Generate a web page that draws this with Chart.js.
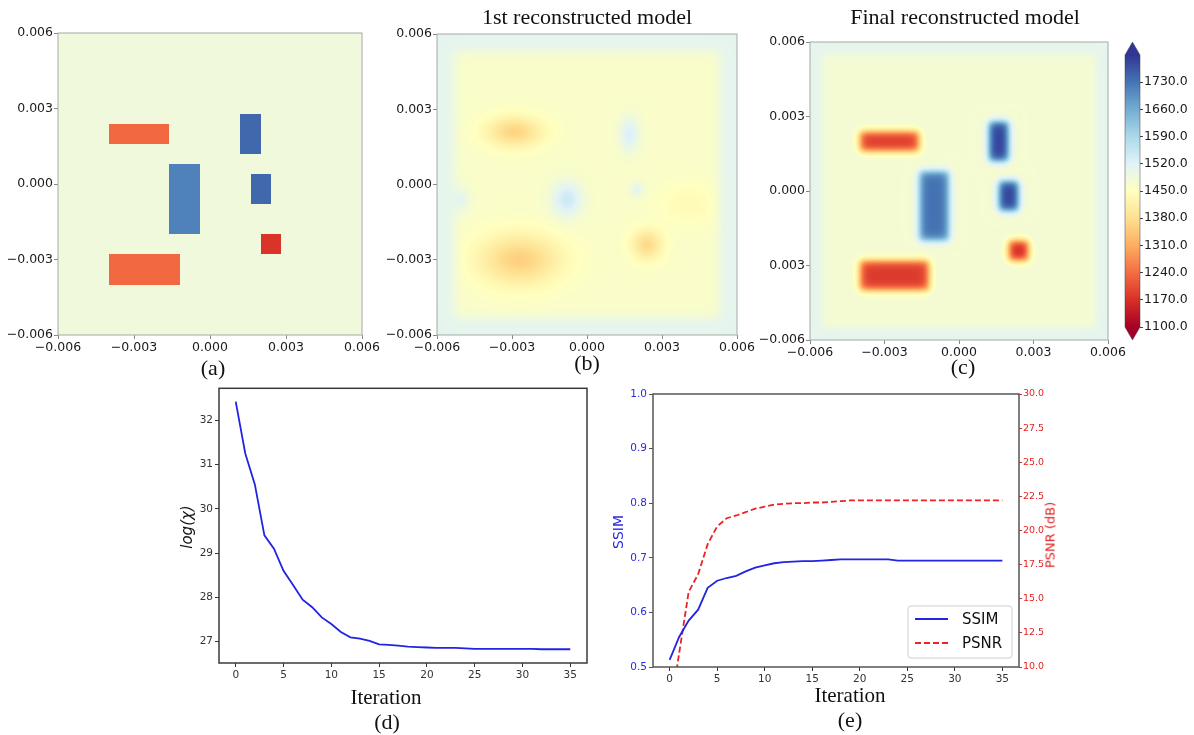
<!DOCTYPE html>
<html>
<head>
<meta charset="utf-8">
<script src="https://cdn.jsdelivr.net/npm/chart.js@4.4.0/dist/chart.umd.min.js"></script>
<style>
body { margin: 0; background: #fff; width: 1194px; height: 735px; position: relative; overflow: hidden; }
canvas { position: absolute; }
.lbl { position: absolute; transform: translate(-50%, -50%); white-space: nowrap; font-family: "Liberation Serif", serif; font-size: 22px; color: #111; }
.rot { transform: translate(-50%, -50%) rotate(-90deg); }
</style>
</head>
<body>
<canvas id="cA" width="390" height="345" style="left:0;top:20px"></canvas>
<canvas id="cB" width="380" height="345" style="left:380px;top:20px"></canvas>
<canvas id="cC" width="380" height="345" style="left:750px;top:28px"></canvas>
<canvas id="cBar" width="94" height="320" style="left:1100px;top:30px"></canvas>
<canvas id="cD" width="425" height="313" style="left:180px;top:380px"></canvas>
<canvas id="cE" width="440" height="317" style="left:615px;top:380px"></canvas>

<div class="lbl" style="left:213px;top:368px">(a)</div>
<div class="lbl" style="left:587px;top:17px">1st reconstructed model</div>
<div class="lbl" style="left:587px;top:363px">(b)</div>
<div class="lbl" style="left:965px;top:17px">Final reconstructed model</div>
<div class="lbl" style="left:963px;top:367px">(c)</div>
<div class="lbl rot" style="left:187px;top:527px;font-family:'DejaVu Sans';font-style:italic;font-size:15px">log(χ)</div>
<div class="lbl" style="left:386px;top:697px;font-size:21px">Iteration</div>
<div class="lbl" style="left:387px;top:722px">(d)</div>
<div class="lbl rot" style="left:618px;top:532px;font-family:'DejaVu Sans';font-size:14px;color:#2a2ae0">SSIM</div>
<div class="lbl rot" style="left:1050px;top:535px;font-family:'DejaVu Sans';font-size:13px;color:#e52222">PSNR (dB)</div>
<div class="lbl" style="left:850px;top:695px;font-size:21px">Iteration</div>
<div class="lbl" style="left:850px;top:720px">(e)</div>

<script>
// ---- model data (sound speed, m/s), coordinates in m ----
const axisTicks = [-0.006, -0.003, 0, 0.003, 0.006];
const axisTickLabels = ['\u22120.006', '\u22120.003', '0.000', '0.003', '0.006'];
const finalYTickLabels = ['\u22120.006', '0.003', '0.000', '0.003', '0.006'];

// inclusion boxes [x0, x1, y0, y1]
const boxes = [
    [-0.0040, -0.0016, 0.0016, 0.0024],
    [-0.0016, -0.0004, -0.0020, 0.0008],
    [0.0012, 0.0020, 0.0012, 0.0028],
    [0.0016, 0.0024, -0.0008, 0.0004],
    [0.0020, 0.0028, -0.0028, -0.0020],
    [-0.0040, -0.0012, -0.0040, -0.0028]
];
const trueValues = [1235, 1715, 1745, 1745, 1175, 1235];
const trueBackground = 1485;

const finalValues = [1180, 1735, 1795, 1795, 1150, 1180];
const finalBackground = 1474;
const finalBorder = 1506;

// first model blobs [cx, cy, rx, ry, change]
const firstBlobs = [
    [-0.0029, 0.0021, 0.0011, 0.0006, -100],
    [-0.0027, -0.0030, 0.0016, 0.0010, -105],
    [0.0024, -0.0024, 0.0006, 0.0006, -90],
    [-0.0008, -0.0006, 0.0006, 0.0007, 85],
    [0.0017, 0.0020, 0.0004, 0.0007, 65],
    [0.0020, -0.0002, 0.0003, 0.0003, 45],
    [-0.0051, -0.0006, 0.0004, 0.0005, 50],
    [0.0041, -0.0008, 0.0012, 0.0008, -25]
];
const firstBackground = 1462;
const firstBorder = 1508;

const colorbarTicks = [1100, 1170, 1240, 1310, 1380, 1450, 1520, 1590, 1660, 1730];
const vmin = 1100, vmax = 1800;

// ---- convergence data ----
const iterations = [0, 1, 2, 3, 4, 5, 6, 7, 8, 9, 10, 11, 12, 13, 14, 15, 16, 17,
    18, 19, 20, 21, 22, 23, 24, 25, 26, 27, 28, 29, 30, 31, 32, 33, 34, 35];
const logChi = [32.42, 31.25, 30.55, 29.4, 29.1, 28.6, 28.28, 27.95, 27.78, 27.55, 27.4, 27.22,
    27.1, 27.07, 27.02, 26.94, 26.93, 26.91, 26.89, 26.88, 26.87, 26.86, 26.86, 26.86,
    26.85, 26.84, 26.84, 26.84, 26.84, 26.84, 26.84, 26.84, 26.83, 26.83, 26.83, 26.83];
const ssim = [0.513, 0.555, 0.585, 0.605, 0.645, 0.658, 0.663, 0.667, 0.675, 0.682, 0.686, 0.69,
    0.692, 0.693, 0.694, 0.694, 0.695, 0.696, 0.697, 0.697, 0.697, 0.697, 0.697, 0.697,
    0.695, 0.695, 0.695, 0.695, 0.695, 0.695, 0.695, 0.695, 0.695, 0.695, 0.695, 0.695];
const psnr = [6.5, 11.0, 15.5, 16.8, 19.0, 20.3, 20.9, 21.1, 21.35, 21.6, 21.75, 21.9,
    21.95, 22.0, 22.0, 22.05, 22.05, 22.1, 22.15, 22.2, 22.2, 22.2, 22.2, 22.2,
    22.2, 22.2, 22.2, 22.2, 22.2, 22.2, 22.2, 22.2, 22.2, 22.2, 22.2, 22.2];
const xTicks = [0, 5, 10, 15, 20, 25, 30, 35];
const chiTicks = [27, 28, 29, 30, 31, 32];
const ssimTicks = [0.5, 0.6, 0.7, 0.8, 0.9, 1.0];
const psnrTicks = [10, 12.5, 15, 17.5, 20, 22.5, 25, 27.5, 30];

// ---- colour map (RdYlBu) ----
const rdylbu = ['#a50026', '#d73027', '#f46d43', '#fdae61', '#fee090', '#ffffbf',
    '#e0f3f8', '#abd9e9', '#74add1', '#4575b4', '#313695'].map(function(h) {
    return [parseInt(h.substr(1, 2), 16), parseInt(h.substr(3, 2), 16), parseInt(h.substr(5, 2), 16)];
});
function cmap(v) {
    var t = Math.min(1, Math.max(0, (v - vmin) / (vmax - vmin))) * 10;
    var i = Math.min(9, Math.floor(t)), f = t - i;
    var a = rdylbu[i], b = rdylbu[i + 1];
    return [a[0] + (b[0] - a[0]) * f, a[1] + (b[1] - a[1]) * f, a[2] + (b[2] - a[2]) * f];
}

function logistic(d, s) { return 1 / (1 + Math.exp(-d / s)); }
function boxProfile(x, y, r, grow, s) {
    return (logistic(x - (r[0] - grow), s) - logistic(x - (r[1] + grow), s)) *
        (logistic(y - (r[2] - grow), s) - logistic(y - (r[3] + grow), s));
}

function trueField(x, y) {
    var v = trueBackground;
    boxes.forEach(function(r, i) {
        if (x >= r[0] && x <= r[1] && y >= r[2] && y <= r[3]) v = trueValues[i];
    });
    return v;
}
function firstField(x, y) {
    var inner = boxProfile(x, y, [-0.0053, 0.0053, -0.0053, 0.0053], 0, 0.00013);
    var d = firstBackground - firstBorder;
    firstBlobs.forEach(function(b) {
        var dx = (x - b[0]) / b[2], dy = (y - b[1]) / b[3];
        d += b[4] * Math.exp(-(dx * dx + dy * dy));
    });
    return firstBorder + inner * d;
}
function finalField(x, y) {
    var inner = boxProfile(x, y, [-0.0055, 0.0055, -0.0055, 0.0055], 0, 0.00008);
    var d = finalBackground - finalBorder;
    boxes.forEach(function(r, i) {
        var amp = finalValues[i] - finalBackground;
        var core = boxProfile(x, y, r, 0, 0.0001);
        var halo = boxProfile(x, y, r, 0.0003, 0.00014) - core;
        d += amp * core - 0.045 * amp * halo;
    });
    return finalBorder + inner * d;
}

// ---- plugins ----
function heatmapPlugin(fieldFn) {
    return {
        id: 'heatmap',
        beforeDatasetsDraw: function(chart) {
            var ctx = chart.ctx, a = chart.chartArea, sx = chart.scales.x, sy = chart.scales.y;
            var w = Math.round(a.right - a.left), h = Math.round(a.bottom - a.top);
            if (!chart.$img) {
                var off = document.createElement('canvas');
                off.width = w; off.height = h;
                var octx = off.getContext('2d');
                var img = octx.createImageData(w, h);
                for (var j = 0; j < h; j++) {
                    var yv = sy.getValueForPixel(a.top + j + 0.5);
                    for (var i = 0; i < w; i++) {
                        var c = cmap(fieldFn(sx.getValueForPixel(a.left + i + 0.5), yv));
                        var k = (j * w + i) * 4;
                        img.data[k] = c[0]; img.data[k + 1] = c[1]; img.data[k + 2] = c[2]; img.data[k + 3] = 255;
                    }
                }
                octx.putImageData(img, 0, 0);
                chart.$img = off;
            }
            ctx.drawImage(chart.$img, a.left, a.top, w, h);
        }
    };
}

var framePlugin = {
    id: 'frame',
    afterDatasetsDraw: function(chart, args, opts) {
        var a = chart.chartArea, ctx = chart.ctx;
        ctx.save();
        ctx.strokeStyle = opts.color;
        ctx.lineWidth = opts.width;
        ctx.strokeRect(a.left, a.top, a.right - a.left, a.bottom - a.top);
        ctx.restore();
    }
};

var colorbarPlugin = {
    id: 'colorbar',
    beforeDatasetsDraw: function(chart) {
        var ctx = chart.ctx, a = chart.chartArea, s = chart.scales.y;
        for (var y = Math.floor(a.top); y < a.bottom; y++) {
            var c = cmap(s.getValueForPixel(y + 0.5));
            ctx.fillStyle = 'rgb(' + c.map(Math.round).join(',') + ')';
            ctx.fillRect(a.left, y, a.right - a.left, 1);
        }
        var mid = (a.left + a.right) / 2;
        ctx.fillStyle = 'rgb(' + cmap(vmax).map(Math.round).join(',') + ')';
        ctx.beginPath(); ctx.moveTo(a.left, a.top); ctx.lineTo(mid, a.top - 13); ctx.lineTo(a.right, a.top); ctx.closePath(); ctx.fill();
        ctx.fillStyle = 'rgb(' + cmap(vmin).map(Math.round).join(',') + ')';
        ctx.beginPath(); ctx.moveTo(a.left, a.bottom); ctx.lineTo(mid, a.bottom + 13); ctx.lineTo(a.right, a.bottom); ctx.closePath(); ctx.fill();
        ctx.strokeStyle = 'rgba(60,60,60,0.6)';
        ctx.lineWidth = 0.8;
        ctx.beginPath();
        ctx.moveTo(a.left, a.bottom); ctx.lineTo(a.left, a.top); ctx.lineTo(mid, a.top - 13); ctx.lineTo(a.right, a.top);
        ctx.lineTo(a.right, a.bottom); ctx.lineTo(mid, a.bottom + 13); ctx.closePath();
        ctx.stroke();
    }
};

var legendBoxPlugin = {
    id: 'legendBox',
    afterDraw: function(chart) {
        var ctx = chart.ctx, a = chart.chartArea;
        var w = 104, h = 52, left = a.right - 7 - w, top = a.bottom - 9 - h;
        ctx.save();
        ctx.fillStyle = 'rgba(255,255,255,0.85)';
        ctx.strokeStyle = '#d0d0d0';
        ctx.lineWidth = 1;
        ctx.beginPath(); ctx.roundRect(left, top, w, h, 3); ctx.fill(); ctx.stroke();
        chart.data.datasets.forEach(function(ds, i) {
            var y = top + 13 + i * 24;
            ctx.strokeStyle = ds.borderColor;
            ctx.lineWidth = ds.borderWidth;
            ctx.setLineDash(ds.borderDash || []);
            ctx.beginPath(); ctx.moveTo(left + 7, y); ctx.lineTo(left + 40, y); ctx.stroke();
            ctx.setLineDash([]);
            ctx.fillStyle = '#111';
            ctx.font = '15px "DejaVu Sans"';
            ctx.textBaseline = 'middle';
            ctx.fillText(ds.label, left + 54, y + 1);
        });
        ctx.restore();
    }
};

Chart.register(framePlugin);

// ---- helpers ----
function fixedTicks(list) {
    return function(s) { s.ticks = list.map(function(v) { return { value: v }; }); };
}
function mapChart(id, fieldFn, pad, yW, xH, yLabels) {
    return new Chart(document.getElementById(id), {
        type: 'scatter',
        data: { datasets: [{ data: [] }] },
        plugins: [heatmapPlugin(fieldFn)],
        options: {
            responsive: false,
            devicePixelRatio: 1,
            animation: false,
            layout: { padding: pad },
            plugins: { legend: { display: false }, tooltip: { enabled: false }, frame: { color: '#a8a8a8', width: 1 } },
            scales: {
                x: {
                    type: 'linear', min: -0.006, max: 0.006,
                    afterBuildTicks: fixedTicks(axisTicks),
                    afterFit: function(s) { s.height = xH; },
                    ticks: { callback: function(v, i) { return axisTickLabels[i]; }, font: { family: 'DejaVu Sans', size: 12.5 }, color: '#1a1a1a', padding: 1, maxRotation: 0, autoSkip: false },
                    grid: { drawOnChartArea: false, tickLength: 4, tickColor: '#888' },
                    border: { display: false }
                },
                y: {
                    type: 'linear', min: -0.006, max: 0.006,
                    afterBuildTicks: fixedTicks(axisTicks),
                    afterFit: function(s) { s.width = yW; },
                    ticks: { callback: function(v, i) { return yLabels[i]; }, font: { family: 'DejaVu Sans', size: 12.5 }, color: '#1a1a1a', padding: 1, autoSkip: false },
                    grid: { drawOnChartArea: false, tickLength: 4, tickColor: '#888' },
                    border: { display: false }
                }
            }
        }
    });
}

mapChart('cA', trueField, { top: 13, right: 28, left: 0, bottom: 0 }, 58, 30, axisTickLabels);
mapChart('cB', firstField, { top: 14, right: 23, left: 0, bottom: 0 }, 57, 30, axisTickLabels);
mapChart('cC', finalField, { top: 14, right: 22, left: 0, bottom: 0 }, 60, 33, finalYTickLabels);

// colour bar
new Chart(document.getElementById('cBar'), {
    type: 'scatter',
    data: { datasets: [{ data: [] }] },
    plugins: [colorbarPlugin],
    options: {
        responsive: false,
        devicePixelRatio: 1,
        animation: false,
        layout: { padding: { left: 25, top: 25, bottom: 23, right: 0 } },
        plugins: { legend: { display: false }, tooltip: { enabled: false }, frame: false },
        scales: {
            x: { display: false },
            y: {
                position: 'right', min: vmin, max: vmax,
                afterBuildTicks: fixedTicks(colorbarTicks),
                afterFit: function(s) { s.width = 54; },
                ticks: { callback: function(v) { return v.toFixed(1); }, font: { family: 'DejaVu Sans', size: 12.5 }, color: '#1a1a1a', padding: 1, autoSkip: false },
                grid: { drawOnChartArea: false, tickLength: 3, tickColor: '#444' },
                border: { display: false }
            }
        }
    }
});

function pairs(ys) { return iterations.map(function(x, i) { return { x: x, y: ys[i] }; }); }
var tickFont = { family: 'DejaVu Sans', size: 10.5 };

// (d) objective function
new Chart(document.getElementById('cD'), {
    type: 'line',
    data: { datasets: [{ label: 'log(chi)', data: pairs(logChi), borderColor: '#2323e3', borderWidth: 1.8, pointRadius: 0, tension: 0 }] },
    options: {
        responsive: false,
        devicePixelRatio: 1,
        animation: false,
        layout: { padding: { top: 8, right: 18, left: 0, bottom: 0 } },
        plugins: { legend: { display: false }, tooltip: { enabled: false }, frame: { color: '#3a3a3a', width: 1.5 } },
        scales: {
            x: {
                type: 'linear', min: -1.75, max: 36.75,
                afterBuildTicks: fixedTicks(xTicks),
                afterFit: function(s) { s.height = 30; },
                ticks: { callback: function(v) { return String(v); }, font: tickFont, color: '#333', padding: 2, maxRotation: 0, autoSkip: false },
                grid: { drawOnChartArea: false, tickLength: 4, tickColor: '#333' },
                border: { display: false }
            },
            y: {
                type: 'linear', min: 26.52, max: 32.72,
                afterBuildTicks: fixedTicks(chiTicks),
                afterFit: function(s) { s.width = 39; },
                ticks: { callback: function(v) { return String(v); }, font: tickFont, color: '#333', padding: 2, autoSkip: false },
                grid: { drawOnChartArea: false, tickLength: 4, tickColor: '#333' },
                border: { display: false }
            }
        }
    }
});

// (e) SSIM and PSNR
new Chart(document.getElementById('cE'), {
    type: 'line',
    data: {
        datasets: [
            { label: 'SSIM', data: pairs(ssim), yAxisID: 'y', borderColor: '#2323e3', borderWidth: 1.8, pointRadius: 0, tension: 0 },
            { label: 'PSNR', data: pairs(psnr), yAxisID: 'y2', borderColor: '#ee2222', borderWidth: 1.8, borderDash: [6, 3], pointRadius: 0, tension: 0 }
        ]
    },
    plugins: [legendBoxPlugin],
    options: {
        responsive: false,
        devicePixelRatio: 1,
        animation: false,
        layout: { padding: { top: 14, right: 0, left: 0, bottom: 0 } },
        plugins: { legend: { display: false }, tooltip: { enabled: false }, frame: { color: '#555', width: 1.5 } },
        scales: {
            x: {
                type: 'linear', min: -1.75, max: 36.75,
                afterBuildTicks: fixedTicks(xTicks),
                afterFit: function(s) { s.height = 30; },
                ticks: { callback: function(v) { return String(v); }, font: tickFont, color: '#333', padding: 2, maxRotation: 0, autoSkip: false },
                grid: { drawOnChartArea: false, tickLength: 4, tickColor: '#333' },
                border: { display: false }
            },
            y: {
                type: 'linear', position: 'left', min: 0.5, max: 1.0,
                afterBuildTicks: fixedTicks(ssimTicks),
                afterFit: function(s) { s.width = 38; },
                ticks: { callback: function(v) { return v.toFixed(1); }, font: tickFont, color: '#2a2ae0', padding: 2, autoSkip: false },
                grid: { drawOnChartArea: false, tickLength: 4, tickColor: '#555' },
                border: { display: false }
            },
            y2: {
                type: 'linear', position: 'right', min: 10, max: 30,
                afterBuildTicks: fixedTicks(psnrTicks),
                afterFit: function(s) { s.width = 36; },
                ticks: { callback: function(v) { return v.toFixed(1); }, font: { family: 'DejaVu Sans', size: 9.5 }, color: '#e52222', padding: 1, autoSkip: false },
                grid: { drawOnChartArea: false, tickLength: 3, tickColor: '#e52222' },
                border: { display: false }
            }
        }
    }
});
</script>
</body>
</html>
